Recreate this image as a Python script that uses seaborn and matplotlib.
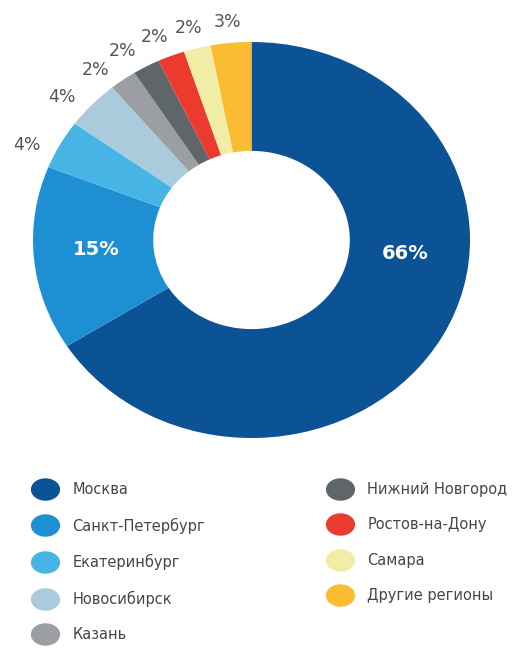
import numpy as np
import matplotlib
matplotlib.use("Agg")
import matplotlib.pyplot as plt
from matplotlib.lines import Line2D
from matplotlib.path import Path
import seaborn as sns

# Share of regions, percent
regions = ["Москва", "Санкт-Петербург", "Екатеринбург", "Новосибирск", "Казань",
           "Нижний Новгород", "Ростов-на-Дону", "Самара", "Другие регионы"]
shares = [66, 15, 4, 4, 2, 2, 2, 2, 3]
colors_hex = ["#0b5394", "#1f8fd4", "#47b4e6", "#a9cbdc", "#9b9fa3",
              "#5f6669", "#ea3b2e", "#f1eda6", "#fbbb32"]

sns.set_theme(style="white")
plt.rcParams["font.family"] = ["DejaVu Sans"]
palette = sns.color_palette(colors_hex)

fig = plt.figure(figsize=(5.22, 6.68), dpi=100)
ax = fig.add_axes([33 / 522, 1 - 438 / 668, 437 / 522, 396 / 668])

outer_labels = [f"{v}%" if v < 10 else "" for v in shares]
wedges, texts = ax.pie(
    shares, colors=palette, startangle=90, counterclock=False,
    radius=1.0, labels=outer_labels, labeldistance=1.12,
    wedgeprops=dict(width=0.55, linewidth=0),
    textprops=dict(color="#555555", fontsize=12.5),
)

# Outside labels for the small wedges, arranged along an arc above the ring
label_arc = {2: (-0.014, 0.740), 3: (0.066, 0.861), 4: (0.144, 0.929),
             5: (0.204, 0.977), 6: (0.279, 1.013), 7: (0.357, 1.035),
             8: (0.446, 1.051)}
for i, t in enumerate(texts):
    t.set_ha("center")
    t.set_va("center")
    if i in label_arc:
        t.set_transform(ax.transAxes)
        t.set_position(label_arc[i])

ax.set_aspect("auto")
ax.set_xlim(-1, 1)
ax.set_ylim(-1, 1)
ax.axis("off")

# Percentages written inside the two largest wedges
inner_pos = {0: (0.851, 0.467), 1: (0.144, 0.475)}
for i, (x, y) in inner_pos.items():
    ax.text(x, y, f"{shares[i]}%", transform=ax.transAxes, ha="center",
            va="center", color="white", fontsize=14, fontweight="bold")

# Oval legend markers
theta = np.linspace(0, 2 * np.pi, 60)
oval = Path(np.column_stack([1.3 * np.cos(theta), np.sin(theta)]), closed=True)

handles = [Line2D([], [], linestyle="none", marker=oval, markersize=21,
                  markerfacecolor=c, markeredgewidth=0) for c in palette]

common = dict(frameon=False, loc="upper left", fontsize=10.5,
              handlelength=1.0, handletextpad=1.35, labelspacing=1.40,
              borderpad=0, borderaxespad=0, labelcolor="#454545")
leg1 = fig.legend(handles[:5], regions[:5],
                  bbox_to_anchor=(38 / 522, 1 - 482 / 668), **common)
leg2 = fig.legend(handles[5:], regions[5:],
                  bbox_to_anchor=(333 / 522, 1 - 482 / 668), **common)

fig.savefig("out.png", dpi=100, facecolor="white")
